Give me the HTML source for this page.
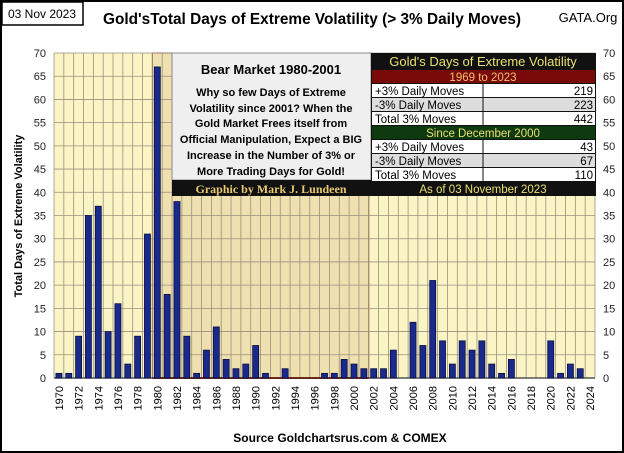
<!DOCTYPE html>
<html><head><meta charset="utf-8"><style>
body{margin:0;background:#fff;}
svg{display:block;font-family:"Liberation Sans",sans-serif;}
</style></head><body>
<svg id="c" width="624" height="453" viewBox="0 0 624 453">
<rect x="1" y="1" width="622" height="451" fill="#fff" stroke="#000" stroke-width="2"/>
<rect x="2" y="2" width="81" height="23" fill="#fff" stroke="#000" stroke-width="1.5"/>
<text x="42" y="18" font-size="12" text-anchor="middle">03 Nov 2023</text>
<text x="312" y="24" font-size="16" font-weight="bold" text-anchor="middle" textLength="418" lengthAdjust="spacingAndGlyphs">Gold'sTotal Days of Extreme Volatility (&gt; 3% Daily Moves)</text>
<text x="588" y="22" font-size="13" text-anchor="middle">GATA.Org</text>
<g id="plot"></g>
<text transform="translate(22,216) rotate(-90)" font-size="11" font-weight="bold" text-anchor="middle">Total Days of Extreme Volatility</text>
<text x="340" y="442" font-size="12" font-weight="bold" text-anchor="middle">Source Goldchartsrus.com  &amp; COMEX</text>
<g>
<rect x="172" y="53" width="199" height="127" fill="#efefef" stroke="#888"/>
<text x="271" y="74" font-size="13" font-weight="bold" text-anchor="middle">Bear Market 1980-2001</text>
<g font-size="11" font-weight="bold" text-anchor="middle">
<text x="271" y="96">Why so few Days of Extreme</text>
<text x="271" y="112">Volatility since 2001?   When the</text>
<text x="271" y="127">Gold Market Frees itself from</text>
<text x="271" y="143">Official Manipulation, Expect a BIG</text>
<text x="271" y="159">Increase in the Number of 3% or</text>
<text x="271" y="175">More Trading Days for Gold!</text>
</g>
<rect x="172" y="180" width="199" height="16" fill="#111"/>
<text x="271" y="193" font-size="12" font-weight="bold" fill="#e8c870" text-anchor="middle" font-family="Liberation Serif,serif">Graphic by Mark J. Lundeen</text>
</g>
<g font-size="11.5">
<rect x="371" y="53" width="225" height="143" fill="#111"/>
<text x="483" y="66" fill="#e8e070" font-size="13" text-anchor="middle">Gold's Days of Extreme Volatility</text>
<rect x="372" y="70" width="223" height="13" fill="#7a0a0a"/>
<text x="483" y="81" fill="#f0c070" text-anchor="middle">1969 to 2023</text>
<rect x="372" y="84" width="223" height="13" fill="#fff"/>
<rect x="372" y="98" width="223" height="13" fill="#ddd"/>
<rect x="372" y="112" width="223" height="13" fill="#fff"/>
<rect x="372" y="126" width="223" height="13" fill="#0f3a0f"/>
<text x="483" y="137" fill="#e8e070" text-anchor="middle">Since December 2000</text>
<rect x="372" y="140" width="223" height="13" fill="#fff"/>
<rect x="372" y="154" width="223" height="13" fill="#ddd"/>
<rect x="372" y="168" width="223" height="13" fill="#fff"/>
<line x1="483" y1="84" x2="483" y2="125" stroke="#111"/>
<line x1="483" y1="140" x2="483" y2="181" stroke="#111"/>
<text x="375" y="95">+3% Daily Moves</text><text x="593" y="95" text-anchor="end">219</text>
<text x="375" y="109">-3% Daily Moves</text><text x="593" y="109" text-anchor="end">223</text>
<text x="375" y="123">Total 3% Moves</text><text x="593" y="123" text-anchor="end">442</text>
<text x="375" y="151">+3% Daily Moves</text><text x="593" y="151" text-anchor="end">43</text>
<text x="375" y="165">-3% Daily Moves</text><text x="593" y="165" text-anchor="end">67</text>
<text x="375" y="179">Total 3% Moves</text><text x="593" y="179" text-anchor="end">110</text>
<text x="483" y="193" fill="#e8e070" text-anchor="middle">As of 03 November 2023</text>
</g>
</svg>
<script>
const years = [];
for (let y = 1970; y <= 2023; y++) years.push(y);
const days = [1,1,9,35,37,10,16,3,9,31,67,18,38,9,1,6,11,4,2,3,7,1,0,2,0,0,0,1,1,4,3,2,2,2,6,0,12,7,21,8,3,8,6,8,3,1,4,0,0,0,8,1,3,2];
const yTicks = [0,5,10,15,20,25,30,35,40,45,50,55,60,65,70];
const xTickYears = [1970,1972,1974,1976,1978,1980,1982,1984,1986,1988,1990,1992,1994,1996,1998,2000,2002,2004,2006,2008,2010,2012,2014,2016,2018,2020,2022,2024];
const bearStart = 1980, bearEnd = 2002;

const NS = "http://www.w3.org/2000/svg";
const L = 54, R = 595, T = 53, B = 378, nSlots = 55, firstYear = 1970;
const sw = (R - L) / nSlots;
const xs = yr => L + (yr - firstYear) * sw;
const ys = v => B - v / 70 * (B - T);
const g = document.getElementById('plot');
function mk(tag, at) { const e = document.createElementNS(NS, tag); for (const k in at) e.setAttribute(k, at[k]); g.appendChild(e); return e; }

const bg = mk('rect', {x:L, y:T, width:R-L, height:B-T, fill:'#fbf5c6'});


const bear = mk('rect', {x:xs(bearStart), y:T, width:xs(bearEnd)-xs(bearStart), height:B-T, fill:'#efe0b0', stroke:'#8a3a2a', 'stroke-width':1});


for (let i = 0; i <= nSlots; i++) {
  const gl = mk('line', {x1:L+i*sw, x2:L+i*sw, y1:T, y2:B, stroke:'#9a9080', 'stroke-width':0.8});
  
  
}
yTicks.forEach(t => {
  const hl = mk('line', {x1:L, x2:R, y1:ys(t), y2:ys(t), stroke:'#9a9080', 'stroke-width':0.8});
  
  
  const a = mk('text', {x:L-8, y:ys(t)+4, 'font-size':11, 'text-anchor':'end', fill:'#222'});
  a.textContent = t;
  
  
  const b = mk('text', {x:R+8, y:ys(t)+4, 'font-size':11, fill:'#222'});
  b.textContent = t;
  
  
});
mk('line', {x1:L, x2:R, y1:B, y2:B, stroke:'#555', 'stroke-width':1.5});
mk('line', {x1:xs(bearStart), x2:xs(bearEnd), y1:B, y2:B, stroke:'#6a2a1a', 'stroke-width':2});
years.forEach((yr, i) => {
  const cx = xs(yr) + sw / 2;
  const r = mk('rect', {x:cx-3, y:ys(days[i]), width:6, height:B-ys(days[i]), fill:'#1a2a8c', stroke:'#0a0f40', 'stroke-width':0.8});
  
  
});
xTickYears.forEach(yr => {
  const x = xs(yr) + sw / 2;
  const t = mk('text', {x:0, y:0, 'font-size':11, 'text-anchor':'end', transform:'translate(' + (x+4) + ',386) rotate(-90)'});
  t.textContent = yr;
  
  
});
</script>
</body></html>
